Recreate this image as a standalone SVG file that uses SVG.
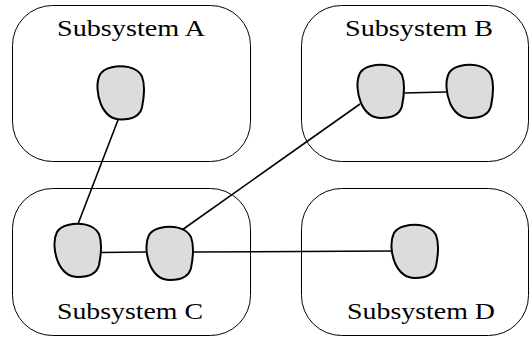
<svg xmlns="http://www.w3.org/2000/svg" width="530" height="337" viewBox="0 0 530 337">
  <style>
    .box { fill: none; stroke: #000; stroke-width: 1; }
    .node { fill: #dcdcdc; stroke: #000; stroke-width: 2; stroke-linejoin: round; }
    .edge { fill: none; stroke: #000; stroke-width: 1.6; }
    .label { font-family: "Liberation Serif", "DejaVu Serif", serif; font-size: 24px; fill: #000; }
  </style>
  <defs>
    <!-- slightly irregular, hand-drawn looking node outline (about 47 x 53) -->
    <path id="blob" d="M 14 1 C 25 -2 40 0 45 10 C 48 18 47 31 45 41 C 43 49 35 53 24 53 C 14 53 8 47 4 38 C 0 28 -1 16 3 8 C 6 3 10 2 14 1 Z"/>
  </defs>

  <!-- subsystem containers -->
  <g id="subsystem-a">
    <rect class="box" x="12.5" y="5.5" width="238" height="156" rx="40" ry="40"/>
    <text class="label" x="57" y="36" textLength="148" lengthAdjust="spacingAndGlyphs">Subsystem A</text>
  </g>
  <g id="subsystem-b">
    <rect class="box" x="301.5" y="5.5" width="227" height="156" rx="40" ry="40"/>
    <text class="label" x="345" y="36" textLength="148" lengthAdjust="spacingAndGlyphs">Subsystem B</text>
  </g>
  <g id="subsystem-c">
    <rect class="box" x="12.5" y="188.5" width="238" height="147" rx="40" ry="40"/>
    <text class="label" x="57" y="319" textLength="146" lengthAdjust="spacingAndGlyphs">Subsystem C</text>
  </g>
  <g id="subsystem-d">
    <rect class="box" x="301.5" y="188.5" width="227" height="147" rx="40" ry="40"/>
    <text class="label" x="347" y="319" textLength="148" lengthAdjust="spacingAndGlyphs">Subsystem D</text>
  </g>

  <!-- connectors -->
  <g id="connectors">
    <line class="edge" x1="118" y1="120" x2="78" y2="224"/>
    <line class="edge" x1="403" y1="93" x2="446" y2="92"/>
    <line class="edge" x1="101" y1="252.5" x2="146" y2="252"/>
    <line class="edge" x1="182" y1="230" x2="360" y2="104"/>
    <line class="edge" x1="193" y1="252" x2="391" y2="251"/>
  </g>

  <!-- nodes -->
  <g id="node-a1"><use href="#blob" class="node" transform="translate(97,66.5)"/></g>
  <g id="node-b1"><use href="#blob" class="node" transform="translate(357,65)"/></g>
  <g id="node-b2"><use href="#blob" class="node" transform="translate(446,65)"/></g>
  <g id="node-c1"><use href="#blob" class="node" transform="translate(54,224)"/></g>
  <g id="node-c2"><use href="#blob" class="node" transform="translate(146,227)"/></g>
  <g id="node-d1"><use href="#blob" class="node" transform="translate(391,225)"/></g>
</svg>
